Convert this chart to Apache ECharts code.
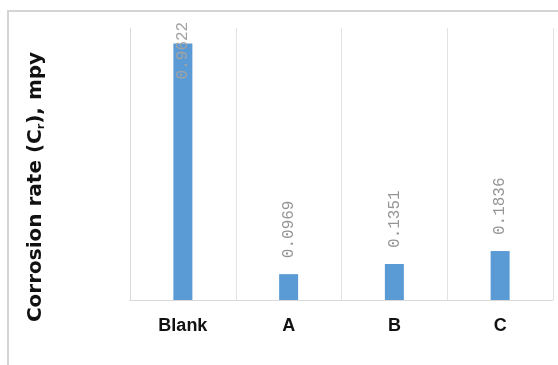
<!DOCTYPE html>
<html>
<head>
<meta charset="utf-8">
<script src="https://cdn.jsdelivr.net/npm/echarts@6/dist/echarts.min.js"></script>
<style>
  html, body { margin: 0; padding: 0; background: #fff; }
  #chart { width: 558px; height: 365px; }
</style>
</head>
<body>
<div id="chart"></div>
<script>
// Corrosion rate per sample
const categories = ['Blank', 'A', 'B', 'C'];
const corrosionRate = [0.9622, 0.0969, 0.1351, 0.1836];

const chart = echarts.init(document.getElementById('chart'), null, { renderer: 'canvas' });

const valueLabel = {
  show: true,
  position: 'top',
  distance: 16,
  rotate: 90,
  align: 'left',
  verticalAlign: 'middle',
  color: '#959595',
  fontFamily: 'Liberation Mono',
  fontSize: 16,
  formatter: p => p.value.toFixed(4)
};

const seriesData = corrosionRate.map((v, i) => {
  const item = { value: v };
  // the tallest bar's label would run off the top; keep it inside the bar
  if (i === 0) {
    item.label = { position: 'insideTop', distance: 36, color: '#a3a3a3' };
  }
  return item;
});

chart.setOption({
  animation: false,
  grid: { left: 130, right: 5, top: 28, bottom: 65 },
  xAxis: {
    type: 'category',
    data: categories,
    boundaryGap: true,
    axisLine: { show: true, lineStyle: { color: '#d9d9d9', width: 1 } },
    axisTick: { show: false },
    splitLine: { show: true, showMinLine: true, showMaxLine: true, lineStyle: { color: '#e3e3e3', width: 1 } },
    axisLabel: {
      color: '#111',
      fontFamily: 'Liberation Sans',
      fontWeight: 'bold',
      fontSize: 18,
      margin: 17
    }
  },
  yAxis: {
    type: 'value',
    min: 0,
    max: 1.02,
    axisLine: { show: true, lineStyle: { color: '#d9d9d9', width: 1 } },
    axisTick: { show: false },
    axisLabel: { show: false },
    splitLine: { show: false }
  },
  series: [{
    type: 'bar',
    data: seriesData,
    barWidth: 19,
    itemStyle: { color: '#5b9bd5' },
    label: valueLabel
  }],
  graphic: [
    {
      type: 'rect',
      shape: { x: 8, y: 11, width: 600, height: 400 },
      style: { fill: 'none', stroke: '#d4d4d4', lineWidth: 2 },
      silent: true
    },
    {
      type: 'text',
      x: 36,
      y: 187,
      rotation: Math.PI / 2,
      style: {
        text: '{a|Corrosion rate (C}{s|r}{a|), mpy}',
        align: 'center',
        verticalAlign: 'middle',
        rich: {
          a: { fontFamily: 'DejaVu Sans', fontWeight: 'bold', fontSize: 20, fill: '#111' },
          s: { fontFamily: 'DejaVu Sans', fontWeight: 'bold', fontSize: 11, fill: '#111', padding: [10, 0, 0, 0] }
        }
      }
    }
  ]
});
</script>
</body>
</html>
